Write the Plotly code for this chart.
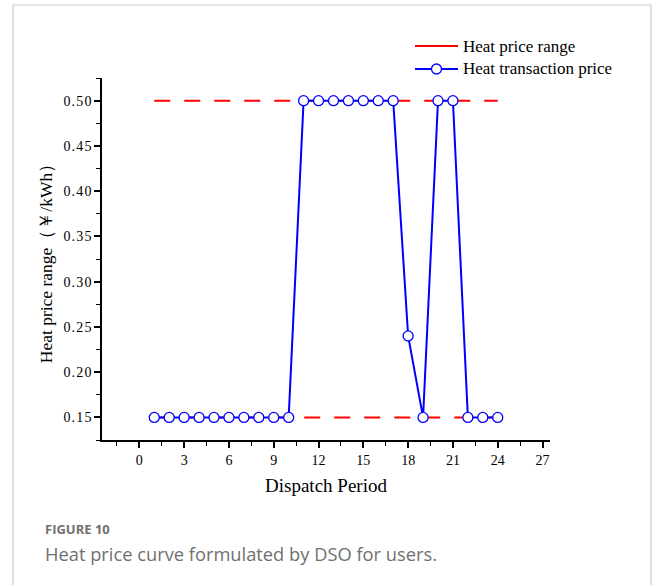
import plotly.graph_objects as go

periods = list(range(1, 25))
transaction_price = [0.15, 0.15, 0.15, 0.15, 0.15, 0.15, 0.15, 0.15, 0.15, 0.15,
                     0.50, 0.50, 0.50, 0.50, 0.50, 0.50, 0.50,
                     0.24, 0.15, 0.50, 0.50, 0.15, 0.15, 0.15]
range_x = [1, 24]
price_upper = [0.50, 0.50]
price_lower = [0.15, 0.15]
x_ticks = [0, 3, 6, 9, 12, 15, 18, 21, 24, 27]
y_ticks = [0.15, 0.20, 0.25, 0.30, 0.35, 0.40, 0.45, 0.50]
legend_names = ["Heat price range", "Heat transaction price"]

serif = "Liberation Serif, Times New Roman, serif"
red = "#FF0000"
blue = "#0000FF"

W, H = 656, 585
ML, MR, MT, MB = 102, 106, 78, 145
PW, PH = W - ML - MR, H - MT - MB


def px(x):
    return (x - ML) / PW


def py(y):
    return (H - MB - y) / PH


fig = go.Figure()
fig.add_trace(go.Scatter(x=range_x, y=price_upper, mode="lines",
                         line=dict(color=red, width=2, dash="16px,14px"),
                         name=legend_names[0], showlegend=False))
fig.add_trace(go.Scatter(x=range_x, y=price_lower, mode="lines",
                         line=dict(color=red, width=2, dash="16px,14px"),
                         name=legend_names[0], showlegend=False))
fig.add_trace(go.Scatter(x=periods, y=transaction_price, mode="lines+markers",
                         line=dict(color=blue, width=2),
                         marker=dict(symbol="circle", size=10, color="white",
                                     line=dict(color=blue, width=1.3)),
                         name=legend_names[1], showlegend=False))

axis_common = dict(showline=True, linecolor="black", linewidth=1.5, ticks="outside",
                   ticklen=6, tickwidth=1.5, tickcolor="black", showgrid=False,
                   zeroline=False, mirror=False,
                   tickfont=dict(family=serif, size=14, color="black"))

fig.update_xaxes(range=[-2.5, 27.5], tickvals=x_ticks, ticktext=[str(v) for v in x_ticks],
                 minor=dict(dtick=1.5, tick0=0, ticks="outside", ticklen=4, tickwidth=1.2,
                            tickcolor="black"),
                 title=dict(text="Dispatch Period", font=dict(family=serif, size=19, color="black"),
                            standoff=12),
                 **axis_common)
fig.update_yaxes(range=[0.125, 0.525], tickvals=y_ticks,
                 ticktext=["\u200a".join(f"{v:.2f}") for v in y_ticks],
                 minor=dict(dtick=0.025, tick0=0.125, ticks="outside", ticklen=4, tickwidth=1.2,
                            tickcolor="black"),
                 title=dict(text="Heat price range（￥/kWh）", font=dict(family=serif, size=17.5, color="black"),
                            standoff=6),
                 **axis_common)

# card border
fig.add_shape(type="rect", xref="paper", yref="paper", x0=px(13), x1=px(651), y0=py(620), y1=py(5),
              line=dict(color="#cccccc", width=1.2), fillcolor="rgba(0,0,0,0)", layer="below")

# manual legend
legend_rows = [(46, red, False), (69, blue, True)]
for (yy, col, has_marker), name in zip(legend_rows, legend_names):
    fig.add_shape(type="line", xref="paper", yref="paper", x0=px(415), x1=px(458),
                  y0=py(yy), y1=py(yy), line=dict(color=col, width=2))
    if has_marker:
        fig.add_shape(type="circle", xref="paper", yref="paper", xsizemode="pixel", ysizemode="pixel",
                      xanchor=px(436.5), yanchor=py(yy), x0=-5, x1=5, y0=-5, y1=5,
                      line=dict(color=col, width=1.3), fillcolor="white")
    fig.add_annotation(xref="paper", yref="paper", x=px(461), y=py(yy), xanchor="left", yanchor="middle",
                       text=name, showarrow=False, font=dict(family=serif, size=17, color="black"))

fig.add_annotation(xref="paper", yref="paper", x=px(43), y=py(529), xanchor="left", yanchor="middle",
                   text="<b>FIGURE 10</b>", showarrow=False,
                   font=dict(family="Open Sans, sans-serif", size=13, color="#707070"))
fig.add_annotation(xref="paper", yref="paper", x=px(43), y=py(553), xanchor="left", yanchor="middle",
                   text="Heat price curve formulated by DSO for users.", showarrow=False,
                   font=dict(family="Open Sans, sans-serif", size=18.3, color="#707070"))

fig.update_layout(
    width=W, height=H,
    margin=dict(l=ML, r=MR, t=MT, b=MB),
    paper_bgcolor="white", plot_bgcolor="white",
    showlegend=False,
)

fig.write_html("out.html", config={"displayModeBar": False},
               post_script="document.body.style.margin='0';document.body.style.overflow='hidden';")
